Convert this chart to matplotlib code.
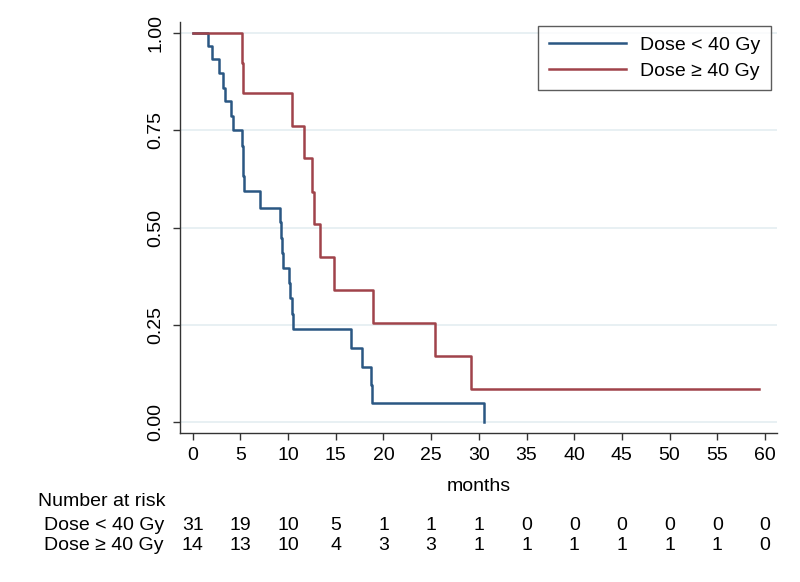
import matplotlib
matplotlib.use("Agg")
import matplotlib.pyplot as plt
import matplotlib.transforms as mtransforms

plt.rcParams["font.family"] = ["Liberation Sans", "DejaVu Sans"]

# ---------------- data ----------------
low_t = [0, 1.64, 2.05, 2.79, 3.14, 3.42, 3.98, 4.26, 5.2, 5.25, 5.3, 5.35, 7.05,
         9.15, 9.26, 9.36, 9.47, 10.1, 10.2, 10.38, 10.55, 16.56, 17.8, 18.7, 18.75, 30.57]
low_s = [1.0, 0.967, 0.933, 0.897, 0.86, 0.825, 0.786, 0.75, 0.71, 0.672, 0.633, 0.595, 0.551,
         0.515, 0.473, 0.434, 0.395, 0.357, 0.318, 0.277, 0.238, 0.189, 0.142, 0.094, 0.049, 0.0]

high_t = [0, 5.2, 5.25, 10.38, 11.7, 12.47, 12.75, 13.34, 14.8, 18.87, 25.37, 29.17, 59.4]
high_s = [1.0, 0.924, 0.847, 0.761, 0.678, 0.592, 0.508, 0.423, 0.339, 0.253, 0.170, 0.084, 0.084]

risk_times = [0, 5, 10, 15, 20, 25, 30, 35, 40, 45, 50, 55, 60]
risk_low = [31, 19, 10, 5, 1, 1, 1, 0, 0, 0, 0, 0, 0]
risk_high = [14, 13, 10, 4, 3, 3, 1, 1, 1, 1, 1, 1, 0]

labels = ["Dose < 40 Gy", "Dose \u2265 40 Gy"]
colors = ["#2a5783", "#a0434a"]
FS = 14

# ---------------- figure ----------------
fig = plt.figure(figsize=(8, 5.82), dpi=100)
ax = fig.add_axes([0.225, 0.256, 0.746, 0.706])

ax.step(low_t, low_s, where="post", color=colors[0], lw=1.8, label=labels[0])
ax.step(high_t, high_s, where="post", color=colors[1], lw=1.8, label=labels[1])

ax.set_xlim(-1.33, 61.24)
ax.set_ylim(-0.029, 1.029)
ax.set_xticks(risk_times)
ax.set_yticks([0, 0.25, 0.5, 0.75, 1.0])
ax.set_yticklabels(["0.00", "0.25", "0.50", "0.75", "1.00"], rotation=90, va="center")
ax.yaxis.grid(True, color="#e6eff2", lw=1.3)
ax.set_axisbelow(True)
for s in ["top", "right"]:
    ax.spines[s].set_visible(False)
for s in ["left", "bottom"]:
    ax.spines[s].set_color("#333333")
    ax.spines[s].set_linewidth(1.0)
ax.tick_params(axis="both", direction="out", length=5, width=1.0, color="#333333",
               labelsize=FS, pad=5)
ax.tick_params(axis="y", pad=6)
ax.set_xlabel("months", fontsize=FS, labelpad=10)

leg = ax.legend(loc="upper right", bbox_to_anchor=(771 / 800, 1 - 26 / 582),
                bbox_transform=fig.transFigure, fontsize=FS, frameon=True,
                fancybox=False, handlelength=4.0, handletextpad=0.7,
                borderpad=0.55, labelspacing=0.4, borderaxespad=0)
leg.get_frame().set_edgecolor("#333333")
leg.get_frame().set_linewidth(1.0)

# ---------------- number at risk table ----------------
trans = mtransforms.blended_transform_factory(ax.transData, fig.transFigure)
fig.text(38 / 800, 1 - 502 / 582, "Number at risk", fontsize=FS, ha="left", va="center")
for row_y, lab, vals in [(525, labels[0], risk_low), (546, labels[1], risk_high)]:
    fy = 1 - row_y / 582
    fig.text(164 / 800, fy, lab, fontsize=FS, ha="right", va="center")
    for t, v in zip(risk_times, vals):
        ax.text(t, fy, str(v), transform=trans, fontsize=FS, ha="center", va="center")

fig.savefig("out.png", dpi=100)
